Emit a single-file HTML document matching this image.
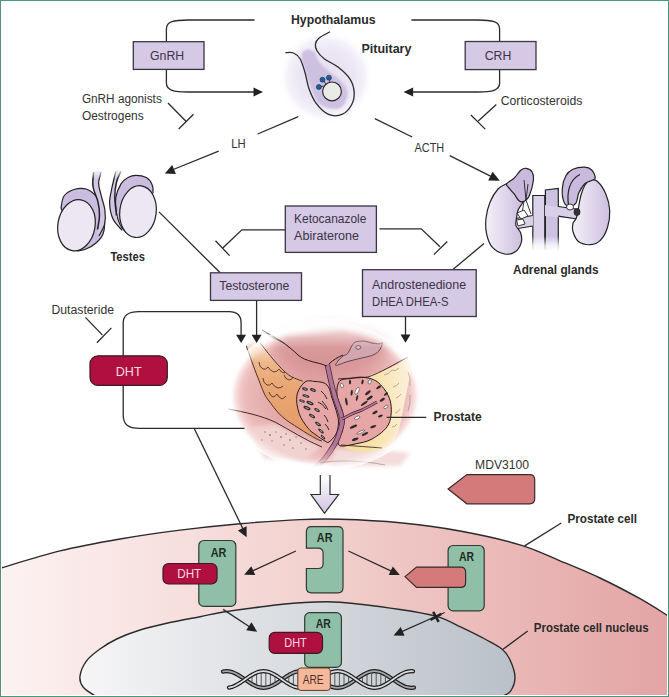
<!DOCTYPE html>
<html><head><meta charset="utf-8">
<style>
html,body{margin:0;padding:0;background:#fff;}
body{width:669px;height:697px;overflow:hidden;}
svg{display:block;font-family:"Liberation Sans",sans-serif;}
.ln{fill:none;stroke:#2b2b2b;stroke-width:1.3;}
.bx{fill:#d5c9e6;stroke:#3a3640;stroke-width:1.3;}
.t{font-size:12.3px;fill:#333;}
.tb{font-size:12.6px;font-weight:bold;fill:#2a2a2a;}
.tbx{font-size:12.3px;fill:#3b3444;}
.ar{fill:#8fc0a7;stroke:#2f3a33;stroke-width:1.2;}
.dht{fill:#b0103f;stroke:#3a1a22;stroke-width:1.2;}
.dhtt{font-size:12.6px;fill:#fadbe3;}
.art{font-size:12.6px;font-weight:bold;fill:#1f2a24;}
.mdv{fill:#d47a7a;stroke:#3a2a2a;stroke-width:1.2;}
</style></head>
<body>
<svg width="669" height="697" viewBox="0 0 669 697">
<defs>
  <linearGradient id="cellg" x1="0" y1="0" x2="1" y2="0">
    <stop offset="0" stop-color="#fcf3f2"/>
    <stop offset="0.45" stop-color="#f3d3d0"/>
    <stop offset="1" stop-color="#e3a4a4"/>
  </linearGradient>
  <linearGradient id="nucg" x1="0" y1="0" x2="1" y2="0">
    <stop offset="0" stop-color="#f6f6f7"/>
    <stop offset="0.5" stop-color="#d8dbdf"/>
    <stop offset="1" stop-color="#b9c0c8"/>
  </linearGradient>
  <radialGradient id="pitg" cx="0.5" cy="0.5" r="0.5">
    <stop offset="0" stop-color="#e6dff1"/>
    <stop offset="0.55" stop-color="#ebe5f4"/>
    <stop offset="0.8" stop-color="#f4f1f9"/>
    <stop offset="1" stop-color="#ffffff" stop-opacity="0"/>
  </radialGradient>
  <radialGradient id="prosg" cx="0.5" cy="0.5" r="0.5">
    <stop offset="0" stop-color="#dc9a9a"/>
    <stop offset="0.55" stop-color="#e4a8a8"/>
    <stop offset="0.82" stop-color="#ebbab9"/>
    <stop offset="0.93" stop-color="#f5d6d5"/>
    <stop offset="1" stop-color="#ffffff" stop-opacity="0"/>
  </radialGradient>
  <linearGradient id="fadeW" x1="0" y1="0" x2="0" y2="1">
    <stop offset="0" stop-color="#fff" stop-opacity="1"/>
    <stop offset="0.4" stop-color="#fff" stop-opacity="0.8"/>
    <stop offset="1" stop-color="#fff" stop-opacity="0"/>
  </linearGradient>
  <linearGradient id="fadeWb" x1="0" y1="0" x2="0" y2="1">
    <stop offset="0" stop-color="#fff" stop-opacity="0"/>
    <stop offset="0.6" stop-color="#fff" stop-opacity="0.8"/>
    <stop offset="1" stop-color="#fff" stop-opacity="1"/>
  </linearGradient>
  <linearGradient id="kidL" x1="0" y1="0" x2="1" y2="0">
    <stop offset="0" stop-color="#f4f0f8"/>
    <stop offset="1" stop-color="#cbbddf"/>
  </linearGradient>
  <linearGradient id="kidR" x1="0" y1="0" x2="1" y2="0">
    <stop offset="0" stop-color="#f4f0f8"/>
    <stop offset="1" stop-color="#cdbfe0"/>
  </linearGradient>
  <filter id="blur6" x="-50%" y="-50%" width="200%" height="200%"><feGaussianBlur stdDeviation="6"/></filter>
  <filter id="blur1" x="-20%" y="-20%" width="140%" height="140%"><feGaussianBlur stdDeviation="1.2"/></filter>
  <filter id="blur2" x="-20%" y="-20%" width="140%" height="140%"><feGaussianBlur stdDeviation="2"/></filter>
  <linearGradient id="orng" gradientUnits="userSpaceOnUse" x1="0" y1="343" x2="0" y2="440">
    <stop offset="0" stop-color="#f9e8dc"/>
    <stop offset="0.2" stop-color="#eeb68a"/>
    <stop offset="0.45" stop-color="#e9a674"/>
    <stop offset="1" stop-color="#e39a68"/>
  </linearGradient>
  <linearGradient id="yelg" x1="0" y1="0" x2="1" y2="0">
    <stop offset="0" stop-color="#f6dc98"/>
    <stop offset="0.5" stop-color="#f8e4ae"/>
    <stop offset="1" stop-color="#fbf0dc"/>
  </linearGradient>
  <radialGradient id="edgefade" cx="0.5" cy="0.5" r="0.5">
    <stop offset="0.86" stop-color="#fff" stop-opacity="0"/>
    <stop offset="1" stop-color="#fff" stop-opacity="0.85"/>
  </radialGradient>
  <linearGradient id="fadeWb2" x1="0" y1="0" x2="0" y2="1">
    <stop offset="0" stop-color="#fff" stop-opacity="0"/>
    <stop offset="0.7" stop-color="#fff" stop-opacity="0.75"/>
    <stop offset="1" stop-color="#fff" stop-opacity="1"/>
  </linearGradient>
  <radialGradient id="wspot" cx="0.5" cy="0.5" r="0.5">
    <stop offset="0" stop-color="#fff" stop-opacity="0.85"/>
    <stop offset="1" stop-color="#fff" stop-opacity="0"/>
  </radialGradient>
  <linearGradient id="urfade" gradientUnits="userSpaceOnUse" x1="0" y1="444" x2="0" y2="468">
    <stop offset="0" stop-color="#fff"/>
    <stop offset="1" stop-color="#000"/>
  </linearGradient>
  <mask id="urmask" maskUnits="userSpaceOnUse" x="200" y="300" width="250" height="200"><rect x="200" y="300" width="250" height="200" fill="url(#urfade)"/></mask>
  <linearGradient id="topfade" gradientUnits="userSpaceOnUse" x1="0" y1="320" x2="0" y2="348">
    <stop offset="0" stop-color="#fff" stop-opacity="0.8"/>
    <stop offset="1" stop-color="#fff" stop-opacity="0"/>
  </linearGradient>
  <linearGradient id="arrg" x1="0" y1="0" x2="0" y2="1">
    <stop offset="0" stop-color="#ffffff"/>
    <stop offset="1" stop-color="#cfc2e2"/>
  </linearGradient>
</defs>

<!-- background -->
<rect x="0" y="0" width="669" height="697" fill="#fff"/>

<!-- CELL -->
<path d="M-2.0 569.0 C-1.7 568.9 -10.3 571.3 0.0 568.3 C10.3 565.3 40.0 555.8 60.0 550.9 C80.0 546.0 100.0 542.5 120.0 539.0 C140.0 535.5 160.0 532.6 180.0 530.1 C200.0 527.6 220.0 525.5 240.0 523.7 C260.0 522.0 283.3 520.3 300.0 519.6 C316.7 518.9 323.3 518.8 340.0 519.3 C356.7 519.8 380.0 520.8 400.0 522.8 C420.0 524.8 440.0 527.3 460.0 531.0 C480.0 534.7 503.3 539.8 520.0 544.8 C536.7 549.8 546.7 555.3 560.0 560.8 C573.3 566.3 586.7 571.7 600.0 578.0 C613.3 584.3 628.3 592.2 640.0 598.7 C651.7 605.2 665.0 614.0 670.0 617.0 L670 700 L-2 700 Z" fill="url(#cellg)" stroke="#2b2b2b" stroke-width="1.4"/>

<!-- NUCLEUS -->
<path d="M96.9 697.0 C94.6 695.4 86.1 690.8 83.3 687.3 C80.5 683.8 79.4 680.4 80.0 676.0 C80.6 671.6 83.4 665.2 86.7 660.7 C90.0 656.2 95.0 652.6 100.0 649.0 C105.0 645.4 110.0 642.2 116.7 639.0 C123.4 635.8 131.7 632.6 140.0 630.0 C148.3 627.4 156.7 625.5 166.7 623.3 C176.7 621.1 190.8 618.5 200.0 616.7 C209.2 614.9 212.0 613.9 222.0 612.3 C232.0 610.7 247.0 608.6 260.0 607.0 C273.0 605.4 286.7 603.6 300.0 602.8 C313.3 602.0 323.3 601.1 340.0 602.2 C356.7 603.3 383.9 607.1 400.0 609.5 C416.1 611.9 426.2 613.5 436.4 616.4 C446.6 619.3 452.9 623.2 461.1 627.1 C469.3 631.0 479.0 635.8 485.8 639.5 C492.6 643.2 498.1 645.8 502.2 649.3 C506.3 652.8 508.3 656.1 510.4 660.8 C512.5 665.5 515.0 672.2 515.0 677.3 C515.0 682.4 512.8 688.0 510.4 691.3 C508.0 694.6 502.2 696.0 500.6 697.0 Z" fill="url(#nucg)" stroke="#2b2b2b" stroke-width="1.4"/>

<!-- PROSTATE -->
<g id="prostate">
<ellipse cx="325" cy="396" rx="97" ry="72" fill="url(#prosg)"/>
<ellipse cx="330" cy="350" rx="58" ry="24" fill="#d08a8e" opacity="0.6" filter="url(#blur6)"/>
<!-- bottom whitish pelvic area -->
<path d="M245 428 L275 424 L321 447 L305 460 L265 458 Z" fill="#f0d2d0" filter="url(#blur2)"/>
<path d="M335 449 L382 450 L410 453 L400 466 L330 466 Z" fill="#f3dcda" filter="url(#blur2)"/>
<!-- orange seminal vesicle -->
<path d="M246.3 345.7 C245.0 348.9 250.1 356.6 252.0 362.0 C253.9 367.4 256.0 372.8 258.0 378.0 C260.0 383.2 262.3 389.3 264.0 393.0 C265.7 396.7 265.4 396.1 268.3 400.0 C271.2 403.9 276.5 411.5 281.6 416.2 C286.7 420.9 293.1 424.6 298.8 428.3 C304.5 432.0 312.1 436.5 316.0 438.6 C319.9 440.7 322.7 442.1 322.0 441.0 C321.3 439.9 315.2 435.5 312.0 432.0 C308.8 428.5 305.3 424.5 303.0 420.0 C300.7 415.5 298.9 409.2 298.0 405.0 C297.1 400.8 297.1 398.2 297.4 395.0 C297.7 391.8 299.1 388.3 300.0 386.0 C300.9 383.7 304.7 383.2 302.8 381.3 C300.9 379.4 293.2 378.3 288.5 374.9 C283.8 371.5 279.5 366.5 274.7 361.1 C269.9 355.7 264.6 345.2 259.9 342.6 C255.2 340.0 247.6 342.5 246.3 345.7Z" fill="url(#orng)"/>
<path d="M246.3 345.7 C247.2 348.4 250.1 356.6 252.0 362.0 C253.9 367.4 256.0 372.8 258.0 378.0 C260.0 383.2 262.3 389.3 264.0 393.0 C265.7 396.7 265.4 396.1 268.3 400.0 C271.2 403.9 276.5 411.5 281.6 416.2 C286.7 420.9 293.1 424.6 298.8 428.3 C304.5 432.0 312.1 436.5 316.0 438.6 C319.9 440.7 321.0 440.6 322.0 441.0 M259.9 342.6 C262.4 345.7 269.9 355.7 274.7 361.1 C279.5 366.5 283.8 371.5 288.5 374.9 C293.2 378.3 300.4 380.2 302.8 381.3" fill="none" stroke="#3a2520" stroke-width="0.9"/>
<path d="M259 362 q0 5 4 7 q3 1 5 -2 q2 4 6 5 q3 0 5 -3 q2 4 6 4 M263 378 q0 5 4 7 q3 1 5 -2 q2 4 6 5 q3 0 5 -2 M269 392 q1 4 4 5 q3 -1 4 -3 q2 4 5 5 q2 -1 4 -3 M284 375 q1 4 5 5 q3 0 4 -3" fill="none" stroke="#3a2520" stroke-width="0.8"/>
<!-- yellow region -->
<path d="M369.0 376.4 C370.0 374.2 380.2 372.1 385.0 370.0 C389.8 367.9 394.2 365.8 398.0 364.0 C401.8 362.2 405.8 359.0 408.0 359.0 C410.2 359.0 411.0 359.7 411.0 364.0 C411.0 368.3 409.2 378.2 408.0 385.0 C406.8 391.8 405.3 398.3 404.0 405.0 C402.7 411.7 401.7 419.2 400.0 425.0 C398.3 430.8 396.8 436.0 394.0 440.0 C391.2 444.0 387.8 447.0 383.0 449.0 C378.2 451.0 371.4 452.3 365.0 452.0 C358.6 451.7 343.1 449.3 344.3 447.1 C345.5 444.9 364.8 442.7 372.2 438.9 C379.6 435.1 385.7 430.4 388.7 424.1 C391.7 417.8 391.9 408.0 390.3 401.1 C388.7 394.2 382.4 387.1 378.8 383.0 C375.2 378.9 368.0 378.6 369.0 376.4Z" fill="url(#yelg)"/>
<path d="M384 375 q5 -1 8 -5 q3 2 7 -2 M393 387 q4 -1 6 -4 M396 398 q3 -1 5 -4 M395 413 q3 0 5 -4 M392 427 q3 0 5 -3 M408 372 q3 6 2 14 M410 395 q1 8 -2 16" fill="none" stroke="#7a6a5a" stroke-width="0.7" opacity="0.7"/>
<!-- lobes -->
<path d="M305.0 382.0 C308.0 379.8 311.8 381.3 315.0 381.5 C318.2 381.7 321.7 381.9 324.0 383.0 C326.3 384.1 327.7 385.5 329.0 388.0 C330.3 390.5 330.8 394.3 332.0 398.0 C333.2 401.7 334.9 406.0 336.0 410.0 C337.1 414.0 338.5 418.0 338.5 422.0 C338.5 426.0 337.6 430.7 336.0 434.0 C334.4 437.3 330.8 440.8 329.0 442.0 C327.2 443.2 327.2 442.2 325.0 441.0 C322.8 439.8 318.8 437.1 316.0 435.0 C313.2 432.9 310.8 431.8 308.0 428.2 C305.2 424.6 300.8 418.7 299.0 413.2 C297.2 407.7 296.0 400.2 297.0 395.0 C298.0 389.8 302.0 384.2 305.0 382.0Z" fill="#e6a6a5" stroke="#2a1a1a" stroke-width="1"/>
<path d="M339.3 381.4 C341.5 378.6 345.9 379.2 350.0 378.5 C354.1 377.8 359.2 376.6 364.0 377.3 C368.8 378.1 374.4 379.0 378.8 383.0 C383.2 387.0 388.7 394.2 390.3 401.1 C391.9 408.0 391.7 417.8 388.7 424.1 C385.7 430.4 377.8 435.6 372.2 438.9 C366.6 442.2 360.2 442.8 355.0 444.0 C349.8 445.2 343.8 446.5 341.0 446.0 C338.2 445.5 337.8 443.3 338.0 441.0 C338.2 438.7 341.0 435.3 342.0 432.0 C343.0 428.7 344.0 424.7 344.0 421.0 C344.0 417.3 343.2 414.3 342.0 410.0 C340.8 405.7 337.4 399.8 337.0 395.0 C336.6 390.2 337.1 384.1 339.3 381.4Z" fill="#e6a6a5" stroke="#2a1a1a" stroke-width="1"/>
<!-- spots -->
<g>
<ellipse cx="305" cy="389" rx="3" ry="1.5" transform="rotate(15 305 389)" fill="#2d2a2e"/>
<ellipse cx="305" cy="389" rx="1.6500000000000001" ry="0.6000000000000001" transform="rotate(15 305 389)" fill="#9aa0a8"/>
<ellipse cx="313" cy="390" rx="3.2" ry="1.5" transform="rotate(20 313 390)" fill="#2d2a2e"/>
<ellipse cx="313" cy="390" rx="1.7600000000000002" ry="0.6000000000000001" transform="rotate(20 313 390)" fill="#9aa0a8"/>
<ellipse cx="306" cy="396" rx="3.6" ry="1.4" transform="rotate(15 306 396)" fill="#2d2a2e"/>
<ellipse cx="306" cy="396" rx="1.9800000000000002" ry="0.5599999999999999" transform="rotate(15 306 396)" fill="#9aa0a8"/>
<ellipse cx="302" cy="401" rx="3" ry="1.3" transform="rotate(20 302 401)" fill="#2d2a2e"/>
<ellipse cx="302" cy="401" rx="1.6500000000000001" ry="0.52" transform="rotate(20 302 401)" fill="#9aa0a8"/>
<ellipse cx="310" cy="403" rx="3.8" ry="1.6" transform="rotate(25 310 403)" fill="#2d2a2e"/>
<ellipse cx="310" cy="403" rx="2.09" ry="0.6400000000000001" transform="rotate(25 310 403)" fill="#9aa0a8"/>
<ellipse cx="307" cy="408" rx="3.8" ry="1.6" transform="rotate(25 307 408)" fill="#2d2a2e"/>
<ellipse cx="307" cy="408" rx="2.09" ry="0.6400000000000001" transform="rotate(25 307 408)" fill="#9aa0a8"/>
<ellipse cx="317" cy="410" rx="3.2" ry="1.4" transform="rotate(30 317 410)" fill="#2d2a2e"/>
<ellipse cx="317" cy="410" rx="1.7600000000000002" ry="0.5599999999999999" transform="rotate(30 317 410)" fill="#9aa0a8"/>
<ellipse cx="312" cy="416" rx="3.4" ry="1.4" transform="rotate(30 312 416)" fill="#2d2a2e"/>
<ellipse cx="312" cy="416" rx="1.87" ry="0.5599999999999999" transform="rotate(30 312 416)" fill="#9aa0a8"/>
<ellipse cx="318" cy="424" rx="3.4" ry="1.4" transform="rotate(35 318 424)" fill="#2d2a2e"/>
<ellipse cx="318" cy="424" rx="1.87" ry="0.5599999999999999" transform="rotate(35 318 424)" fill="#9aa0a8"/>
<ellipse cx="321" cy="431" rx="3.4" ry="1.3" transform="rotate(40 321 431)" fill="#2d2a2e"/>
<ellipse cx="321" cy="431" rx="1.87" ry="0.52" transform="rotate(40 321 431)" fill="#9aa0a8"/>
<ellipse cx="323" cy="437" rx="3" ry="1.1" transform="rotate(45 323 437)" fill="#2d2a2e"/>
<ellipse cx="323" cy="437" rx="1.6500000000000001" ry="0.44000000000000006" transform="rotate(45 323 437)" fill="#9aa0a8"/>
<ellipse cx="350" cy="382" rx="1.1" ry="2.6" transform="rotate(0 350 382)" fill="#2d2a2e"/>
<ellipse cx="362.5" cy="381.9" rx="1.1" ry="2.5" transform="rotate(10 362.5 381.9)" fill="#2d2a2e"/>
<ellipse cx="378.7" cy="387.3" rx="2.8" ry="1.2" transform="rotate(-35 378.7 387.3)" fill="#2d2a2e"/>
<ellipse cx="367.9" cy="392.7" rx="3.4" ry="1.3" transform="rotate(-40 367.9 392.7)" fill="#2d2a2e"/>
<ellipse cx="382.2" cy="399.8" rx="3" ry="1.3" transform="rotate(-30 382.2 399.8)" fill="#2d2a2e"/>
<ellipse cx="346.4" cy="401.6" rx="1.1" ry="4" transform="rotate(-10 346.4 401.6)" fill="#2d2a2e"/>
<ellipse cx="351.7" cy="392.7" rx="1.1" ry="3" transform="rotate(5 351.7 392.7)" fill="#2d2a2e"/>
<ellipse cx="369.7" cy="398" rx="3.6" ry="1.3" transform="rotate(-35 369.7 398)" fill="#2d2a2e"/>
<ellipse cx="364.3" cy="403.4" rx="4" ry="1.1" transform="rotate(-35 364.3 403.4)" fill="#2d2a2e"/>
<ellipse cx="375" cy="412.4" rx="3" ry="1.2" transform="rotate(-30 375 412.4)" fill="#2d2a2e"/>
<ellipse cx="380.4" cy="416" rx="2.6" ry="1.1" transform="rotate(-25 380.4 416)" fill="#2d2a2e"/>
<ellipse cx="373.3" cy="426.7" rx="3.2" ry="1.2" transform="rotate(-20 373.3 426.7)" fill="#2d2a2e"/>
<ellipse cx="353.5" cy="426.7" rx="4" ry="1.2" transform="rotate(-25 353.5 426.7)" fill="#2d2a2e"/>
<ellipse cx="355.3" cy="439.3" rx="3.5" ry="1.3" transform="rotate(-20 355.3 439.3)" fill="#2d2a2e"/>
<ellipse cx="365" cy="434" rx="3.5" ry="1.1" transform="rotate(-25 365 434)" fill="#2d2a2e"/>
<ellipse cx="386" cy="394" rx="2.4" ry="1.1" transform="rotate(-40 386 394)" fill="#2d2a2e"/>
<ellipse cx="357" cy="398" rx="1" ry="3" transform="rotate(15 357 398)" fill="#2d2a2e"/>
</g>
<path d="M321 391 q4 3 6 8 M322 401 q4 4 6 9 M324 415 q3 3 4 7 M325 424 q3 3 4 6 M318 402 q5 2 8 7" fill="none" stroke="#2d2a2e" stroke-width="1"/>
<g>
<ellipse cx="341.9" cy="385.5" rx="1.4" ry="2.4" transform="rotate(-20 341.9 385.5)" fill="#fff" stroke="#2d2a2e" stroke-width="0.5"/>
<ellipse cx="357.1" cy="390.9" rx="1.6" ry="3.8" transform="rotate(25 357.1 390.9)" fill="#fff" stroke="#2d2a2e" stroke-width="0.5"/>
<ellipse cx="369.7" cy="381.9" rx="1.4" ry="2.3" transform="rotate(20 369.7 381.9)" fill="#fff" stroke="#2d2a2e" stroke-width="0.5"/>
<ellipse cx="385.8" cy="407" rx="2.3" ry="1.3" transform="rotate(-35 385.8 407)" fill="#fff" stroke="#2d2a2e" stroke-width="0.5"/>
<ellipse cx="357.1" cy="417.8" rx="3" ry="1.4" transform="rotate(-25 357.1 417.8)" fill="#fff" stroke="#2d2a2e" stroke-width="0.5"/>
<ellipse cx="360.7" cy="432.1" rx="4.5" ry="1" transform="rotate(-25 360.7 432.1)" fill="#fff" stroke="#2d2a2e" stroke-width="0.5"/>
</g>
<!-- urethra -->
<g mask="url(#urmask)">
<path d="M327.3 364.9 C327.9 367.4 329.4 374.6 330.6 379.8 C331.9 385.0 333.2 390.8 334.8 396.3 C336.4 401.8 339.3 408.7 340.5 412.8 C341.7 416.9 342.2 418.2 342.2 421.0 C342.2 423.8 341.5 426.0 340.5 429.3 C339.5 432.6 338.4 436.7 336.4 440.8 C334.3 444.9 330.9 450.1 328.2 454.0 C325.4 457.9 322.6 461.1 319.9 463.9 C317.2 466.7 313.3 469.8 312.0 471.0" fill="none" stroke="#4a2a3c" stroke-width="5.4"/>
<path d="M327.3 364.9 C327.9 367.4 329.4 374.6 330.6 379.8 C331.9 385.0 333.2 390.8 334.8 396.3 C336.4 401.8 339.3 408.7 340.5 412.8 C341.7 416.9 342.2 418.2 342.2 421.0 C342.2 423.8 341.5 426.0 340.5 429.3 C339.5 432.6 338.4 436.7 336.4 440.8 C334.3 444.9 330.9 450.1 328.2 454.0 C325.4 457.9 322.6 461.1 319.9 463.9 C317.2 466.7 313.3 469.8 312.0 471.0" fill="none" stroke="#b07496" stroke-width="3.8"/>
<path d="M342 419 Q352 413 362 410 Q370 406 377 402" fill="none" stroke="#3a2030" stroke-width="3"/>
<path d="M342 419 Q352 413 362 410 Q370 406 377 402" fill="none" stroke="#b07496" stroke-width="1.8"/>
</g>
<!-- bladder lines -->
<path d="M262 330 C275 337 288 345 298 355 C306 362 318 362 327 366" fill="none" stroke="#2a1a1a" stroke-width="1"/>
<path d="M266 333 C276 338 284 342 290 348 M269 336 L284 343" fill="none" stroke="#2a1a1a" stroke-width="0.7"/>
<path d="M343.0 356.0 C344.6 354.8 346.0 355.4 347.5 353.7 C349.0 352.0 350.6 347.6 352.0 345.6 C353.4 343.7 353.5 342.8 355.6 342.0 C357.7 341.2 361.9 340.9 364.6 341.1 C367.3 341.3 369.3 342.6 371.7 343.0 C374.1 343.4 377.1 343.8 378.9 343.8 C380.7 343.8 382.5 341.8 382.5 343.0 C382.5 344.2 380.7 348.9 378.9 351.0 C377.1 353.1 374.7 354.3 371.7 355.5 C368.7 356.7 365.2 357.1 361.0 358.2 C356.8 359.2 350.8 360.6 346.6 361.8 C342.4 363.0 337.4 365.5 336.0 365.4 C334.6 365.3 336.8 362.6 338.0 361.0 C339.2 359.4 341.4 357.2 343.0 356.0Z" fill="#d2a6b0" stroke="#4a3038" stroke-width="0.8"/>
<path d="M329 364 C333 360 338 357 343 355" fill="none" stroke="#2a1a1a" stroke-width="1"/>
<ellipse cx="358.3" cy="347.4" rx="2.6" ry="1.8" fill="#e0c4c8" stroke="#5a4048" stroke-width="0.8"/>
<path d="M338 379 C350 378 360 378 368 377 C380 373 395 364 408 357" fill="none" stroke="#2a1a1a" stroke-width="0.9"/>
<!-- lower lines -->
<path d="M228 409 C245 412 262 416 275 422 C290 430 305 440 322 447" fill="none" stroke="#2a1a1a" stroke-width="0.9"/>
<path d="M341 445 C355 446 370 447 382 448" fill="none" stroke="#2a1a1a" stroke-width="0.8"/>
<path d="M320 463 C335 460 360 460 385 465" fill="none" stroke="#2a1a1a" stroke-width="0.6" opacity="0.5"/>
<g fill="#8a6a6a" opacity="0.8">
<circle cx="265" cy="432" r="0.8"/><circle cx="270" cy="435" r="0.9"/><circle cx="276" cy="432" r="0.7"/><circle cx="281" cy="437" r="0.9"/><circle cx="286" cy="434" r="0.8"/><circle cx="290" cy="440" r="0.9"/><circle cx="296" cy="437" r="0.8"/><circle cx="301" cy="443" r="0.8"/><circle cx="272" cy="441" r="0.7"/><circle cx="284" cy="445" r="0.8"/><circle cx="293" cy="448" r="0.8"/><circle cx="306" cy="449" r="0.8"/><circle cx="262" cy="440" r="0.7"/>
</g>
<ellipse cx="412" cy="335" rx="26" ry="22" fill="url(#wspot)"/>
<!-- bottom fade -->
<ellipse cx="325" cy="396" rx="99" ry="74" fill="url(#edgefade)"/>
<ellipse cx="300" cy="328" rx="45" ry="10" fill="url(#wspot)"/>
<rect x="225" y="318" width="200" height="30" fill="url(#topfade)"/>

</g>
<!-- TOP FEEDBACK LOOPS -->
<path class="ln" d="M254.5 20 H188 C174 20 166.4 21.5 166.4 29 V41.7"/>
<path class="ln" d="M166.4 69.4 V83 C166.4 90.5 174 92 188 92 H254"/>
<path d="M263.0 92.0 L253.5 87.4 L253.5 96.6 Z" fill="#222"/>
<rect class="bx" x="133.3" y="41.7" width="70.7" height="27.7"/>
<text class="tbx" x="167.1" y="60" text-anchor="middle">GnRH</text>

<path class="ln" d="M411.4 20 H478 C492 20 499.6 21.5 499.6 29 V41.5"/>
<path class="ln" d="M499.6 69.6 V83 C499.6 90.5 492 92 478 92 H413"/>
<path d="M403.6 92.0 L413.1 96.6 L413.1 87.4 Z" fill="#222"/>
<rect class="bx" x="465.2" y="41.5" width="70.8" height="28.1"/>
<text class="tbx" x="498" y="59.6" text-anchor="middle">CRH</text>

<text class="tb" x="291" y="23.9" textLength="84.6" lengthAdjust="spacingAndGlyphs">Hypothalamus</text>
<text class="tb" x="361.5" y="53.2" textLength="49.9" lengthAdjust="spacingAndGlyphs">Pituitary</text>

<text class="t" x="81.9" y="103.1" textLength="79.9" lengthAdjust="spacingAndGlyphs">GnRH agonists</text>
<text class="t" x="81.9" y="120.4" textLength="61.8" lengthAdjust="spacingAndGlyphs">Oestrogens</text>
<path class="ln" d="M168 103 L185.7 121 M178.7 129 L193.5 114.3"/>

<text class="t" x="500.7" y="105.2" textLength="81.7" lengthAdjust="spacingAndGlyphs">Corticosteroids</text>
<path class="ln" d="M496.3 104.6 L478.3 121 M470.9 115 L485.2 129.1"/>

<!-- PITUITARY -->
<ellipse cx="326" cy="77" rx="48" ry="47" fill="url(#pitg)"/>
<path d="M307.0 49.6 C304.9 49.9 302.2 51.6 301.6 54.3 C301.0 57.0 302.0 60.3 303.6 65.8 C305.2 71.3 308.4 81.1 311.0 87.4 C313.6 93.7 315.3 100.0 319.1 103.6 C322.9 107.2 329.9 108.7 334.0 109.0 C338.1 109.3 341.1 108.3 343.4 105.6 C345.6 102.9 347.7 96.7 347.5 92.8 C347.3 88.9 345.1 85.6 342.0 82.0 C338.9 78.4 332.4 74.6 328.6 71.2 C324.8 67.8 321.5 64.9 319.1 61.7 C316.7 58.6 316.4 54.3 314.4 52.3 C312.4 50.3 309.1 49.3 307.0 49.6Z" fill="#cdc0e1" filter="url(#blur1)"/>
<path class="ln" d="M285.4 52.6 C286.8 52.7 291.0 51.9 293.5 53.0 C296.0 54.1 298.3 55.8 300.2 59.0 C302.1 62.2 303.5 67.5 305.0 72.5 C306.5 77.5 307.1 83.5 309.0 88.7 C310.9 93.9 313.1 99.3 316.4 103.6 C319.7 107.9 324.3 112.6 328.6 114.4 C332.9 116.2 338.2 116.0 342.0 114.4 C345.8 112.8 349.5 108.6 351.5 105.0 C353.5 101.4 354.4 97.1 354.2 92.8 C354.0 88.5 352.9 83.6 350.2 79.3 C347.5 75.0 342.3 70.5 338.0 67.1 C333.7 63.7 328.0 61.7 324.5 59.0 C321.0 56.3 318.6 53.5 317.1 51.0 C315.6 48.5 315.1 46.4 315.4 44.2 C315.7 42.1 316.7 40.2 319.1 38.1 C321.5 36.0 328.2 32.9 330.0 31.8" stroke-width="1.2"/>
<path d="M322.5 79.7 L326 84 M328.9 77.7 L330 82 M318.9 87 L323.5 86" stroke="#2b2b2b" stroke-width="0.9"/>
<circle cx="332" cy="91.4" r="9.4" fill="#e9ebe7" stroke="#2b2b2b" stroke-width="1.2"/>
<circle cx="322.5" cy="79.7" r="2.5" fill="#1f5e9e" stroke="#1a2a40" stroke-width="0.6"/>
<circle cx="328.9" cy="77.7" r="2.5" fill="#1f5e9e" stroke="#1a2a40" stroke-width="0.6"/>
<circle cx="318.9" cy="87" r="2.5" fill="#1f5e9e" stroke="#1a2a40" stroke-width="0.6"/>

<!-- TESTES -->
<g stroke="#222" stroke-width="1.2">
<path d="M61.0 208.0 C61.5 206.0 61.8 199.1 64.0 196.0 C66.2 192.9 70.3 190.7 74.0 189.5 C77.7 188.3 82.3 187.9 86.0 189.0 C89.7 190.1 93.5 193.2 96.0 196.0 C98.5 198.8 99.6 202.0 101.0 206.0 C102.4 210.0 104.2 215.3 104.5 220.0 C104.8 224.7 104.4 230.2 103.0 234.0 C101.6 237.8 98.8 240.5 96.0 243.0 C93.2 245.5 89.0 247.7 86.0 249.0 C83.0 250.3 79.3 250.7 78.0 251.0 L70 230 Z" fill="#cbbde0"/>
<path d="M93.6 172.0 C92.2 174.4 92.3 181.6 93.0 186.5 C93.7 191.4 96.8 196.8 97.9 201.6 C99.0 206.4 99.6 210.8 99.5 215.5 C99.4 220.2 97.6 226.1 97.5 229.5 C97.4 232.9 97.8 236.9 99.0 236.0 C100.2 235.1 103.6 228.4 104.6 224.1 C105.6 219.8 105.5 215.0 104.9 210.2 C104.3 205.4 102.1 199.6 101.1 195.1 C100.0 190.6 98.6 187.2 98.6 183.3 C98.6 179.5 101.9 173.9 101.1 172.0 C100.3 170.1 94.9 169.6 93.6 172.0Z" fill="#d3c7e5" stroke="none"/>
<path d="M93.6 172.0 C93.5 174.4 92.3 181.6 93.0 186.5 C93.7 191.4 96.8 196.8 97.9 201.6 C99.0 206.4 99.6 210.8 99.5 215.5 C99.4 220.2 97.8 227.2 97.5 229.5" fill="none" stroke-width="1.5"/>
<path d="M101.1 172.0 C100.7 173.9 98.6 179.5 98.6 183.3 C98.6 187.2 100.0 190.6 101.1 195.1 C102.1 199.6 104.3 205.4 104.9 210.2 C105.5 215.0 105.6 219.8 104.6 224.1 C103.6 228.4 99.9 234.0 99.0 236.0" fill="none"/>
<ellipse cx="76.5" cy="225.2" rx="18.6" ry="25.8" transform="rotate(10 76.5 225.2)" fill="#ece7f3"/>

<path d="M125.6 232.0 C124.6 230.8 121.4 227.8 119.9 224.7 C118.4 221.6 117.2 217.8 116.5 213.2 C115.8 208.6 115.2 202.0 115.9 197.1 C116.7 192.2 119.0 187.2 121.0 183.9 C123.0 180.6 125.5 178.9 128.0 177.5 C130.5 176.1 132.9 175.3 136.0 175.3 C139.1 175.3 143.6 176.1 146.3 177.6 C149.0 179.1 150.9 182.0 152.0 184.5 C153.1 187.0 153.3 190.4 153.0 192.5 C152.7 194.6 150.5 196.2 150.0 197.0 L135 210 Z" fill="#cbbde0"/>
<path d="M115.9 171.0 C114.4 173.8 113.0 182.6 111.9 187.9 C110.9 193.2 109.4 197.7 109.6 202.9 C109.8 208.1 110.9 214.3 113.0 218.9 C115.1 223.5 121.4 229.9 122.2 230.4 C123.0 230.9 119.0 224.5 118.0 222.0 C117.0 219.5 117.0 219.7 116.5 215.5 C116.0 211.3 114.8 202.7 114.8 197.1 C114.8 191.5 115.5 186.5 116.5 182.2 C117.5 177.9 121.1 173.2 121.0 171.3 C120.9 169.4 117.4 168.2 115.9 171.0Z" fill="#d3c7e5" stroke="none"/>
<path d="M115.9 171.0 C115.2 173.8 113.0 182.6 111.9 187.9 C110.9 193.2 109.4 197.7 109.6 202.9 C109.8 208.1 110.9 214.3 113.0 218.9 C115.1 223.5 120.7 228.5 122.2 230.4" fill="none"/>
<path d="M121.0 171.3 C120.2 173.1 117.5 177.9 116.5 182.2 C115.5 186.5 114.8 191.5 114.8 197.1 C114.8 202.7 116.2 212.4 116.5 215.5" fill="none" stroke-width="1.5"/>
<ellipse cx="138" cy="211.6" rx="18.2" ry="26" transform="rotate(7 138 211.6)" fill="#ece7f3"/>
</g>
<rect x="88" y="165" width="40" height="14" fill="url(#fadeW)"/>

<!-- ADRENAL / KIDNEYS -->
<g stroke="#222" stroke-width="1.2">
<!-- vessels -->
<path d="M532.8 250 V195.5 H544.8 V250" fill="#dcd2ea"/>
<path d="M545.4 250 V190 L558.3 188.5 V250" fill="#cdc1e1"/>
<path d="M516 218 L533 215 V226 L518 229 Z" fill="#d9cfe8" stroke="none"/>
<path d="M516 218.5 L532.8 215.5 M518 228.5 L532.8 226" fill="none"/>
<path d="M545 205 L576 209 L577 219 L545 216 Z" fill="#d9cfe8" stroke="none"/>
<path d="M558.3 206.5 L576 209 M558.3 216.2 L577 219" fill="none"/>

<!-- left kidney -->
<path d="M506.7 183.7 C505.2 184.6 500.8 185.9 498.0 189.0 C495.2 192.1 492.0 197.4 490.0 202.3 C488.0 207.2 486.6 213.0 486.0 218.3 C485.4 223.6 485.6 229.4 486.7 234.3 C487.8 239.2 489.7 244.4 492.7 247.7 C495.7 251.0 500.9 253.3 504.7 254.0 C508.5 254.7 512.5 253.6 515.3 251.7 C518.1 249.8 520.4 245.4 521.3 242.3 C522.2 239.2 521.6 235.8 520.7 233.0 C519.8 230.2 516.7 228.2 516.0 225.7 C515.3 223.2 516.2 220.6 516.5 218.0 C516.8 215.4 517.1 212.7 518.0 210.3 C518.9 207.9 521.1 205.2 522.0 203.7 C522.9 202.1 523.1 201.4 523.3 201.0 L515 192 Z" fill="url(#kidL)"/>
<path d="M506.7 183.7 C507.6 182.1 511.7 180.5 514.0 178.3 C516.3 176.1 518.7 172.0 520.7 170.3 C522.7 168.6 524.1 168.1 526.0 168.3 C527.9 168.5 530.8 169.6 532.0 171.7 C533.2 173.8 533.8 177.0 533.3 181.0 C532.8 185.0 530.7 192.4 529.3 195.7 C527.9 199.0 526.4 200.1 524.7 201.0 C523.0 201.9 521.1 202.2 519.3 201.0 C517.5 199.8 515.8 195.9 514.0 193.7 C512.2 191.5 509.9 189.4 508.7 187.7 C507.5 186.0 505.8 185.3 506.7 183.7Z" fill="#c9badd"/>
<path d="M524 180 L526 200 M528 184 L526 200 L531 214 M524 201 L522 214" fill="none" stroke-width="0.9"/>
<path d="M517 213 L524 210 L528 216 L521 219 Z M516.5 220 L523 219 L525 224 L518 226 Z" fill="#fff" stroke-width="0.9"/>
<!-- right kidney -->
<path d="M590.3 180.0 C592.4 179.4 594.9 179.1 597.5 181.5 C600.1 183.9 604.0 189.6 606.0 194.4 C608.0 199.2 609.5 204.7 609.7 210.2 C610.0 215.7 609.1 222.5 607.5 227.5 C605.9 232.5 603.2 237.5 600.3 240.4 C597.4 243.3 593.9 244.5 590.3 244.7 C586.7 244.9 581.7 244.0 578.8 241.8 C575.9 239.7 574.0 234.9 573.0 231.8 C572.0 228.7 572.5 225.4 573.0 223.2 C573.5 221.0 575.2 220.7 576.0 218.8 C576.8 216.9 577.5 214.1 578.0 212.0 C578.5 209.9 578.3 208.8 578.8 206.0 C579.3 203.2 580.0 198.5 581.0 195.0 C582.0 191.5 583.5 187.5 585.0 185.0 C586.5 182.5 588.2 180.6 590.3 180.0Z" fill="url(#kidR)"/>
<path d="M564.4 203.0 C563.1 200.1 562.0 193.2 562.3 188.7 C562.5 184.2 564.1 179.0 565.9 175.8 C567.7 172.6 569.9 170.7 573.0 169.3 C576.1 167.9 581.4 167.1 584.5 167.2 C587.6 167.3 589.9 168.2 591.7 170.0 C593.5 171.8 595.5 176.2 595.3 178.0 C595.1 179.8 592.1 180.0 590.3 181.0 C588.5 182.0 586.4 182.0 584.5 184.0 C582.6 186.0 580.2 189.8 578.8 193.0 C577.4 196.2 577.5 200.8 576.0 203.0 C574.5 205.2 571.9 206.0 570.0 206.0 C568.1 206.0 565.7 205.9 564.4 203.0Z" fill="#c9badd"/>
<path d="M568.5 205 C567 195 568 180 580 174.5" fill="none"/>
<ellipse cx="570" cy="207" rx="3.5" ry="3" fill="#fff" stroke-width="0.9"/>
<ellipse cx="577" cy="212" rx="3" ry="3.5" fill="#333" stroke-width="0.9"/>
</g>
<rect x="530" y="236" width="30" height="16" fill="url(#fadeWb)"/>

<!-- LH / ACTH -->
<path class="ln" d="M298.3 116.7 L257.7 134 M218.7 151.1 L172 170"/>
<path d="M164.8 173.4 L175.9 174.1 L172.2 165.0 Z" fill="#222"/>
<text class="t" x="231.3" y="147.8" textLength="14.4" lengthAdjust="spacingAndGlyphs">LH</text>
<path class="ln" d="M374.8 118.7 L412.2 137 M449.7 155.7 L491 176.4"/>
<path d="M499.8 180.8 L492.6 171.7 L488.2 180.5 Z" fill="#222"/>
<text class="t" x="414.5" y="151.9" textLength="29.7" lengthAdjust="spacingAndGlyphs">ACTH</text>

<!-- Testes label -->
<text class="tb" x="110.4" y="260.6" textLength="34.5" lengthAdjust="spacingAndGlyphs">Testes</text>
<text class="tb" x="513.1" y="274" textLength="85.4" lengthAdjust="spacingAndGlyphs">Adrenal glands</text>

<!-- Keto box -->
<rect class="bx" x="285.3" y="206" width="91.1" height="46.4"/>
<text class="tbx" x="294.1" y="223.2" textLength="72.2" lengthAdjust="spacingAndGlyphs">Ketocanazole</text>
<text class="tbx" x="294.1" y="239.9" textLength="65" lengthAdjust="spacingAndGlyphs">Abiraterone</text>
<path class="ln" d="M285.3 229.8 H241.9 L223 247.7 M215.5 240.8 L229.6 255.6"/>
<path class="ln" d="M379.5 228.9 H421.2 L440 246.8 M433.8 254.6 L447.3 241.5"/>

<!-- Testosterone -->
<path class="ln" d="M159 211.9 L220.2 272.8"/>
<rect class="bx" x="210.5" y="272.8" width="91" height="27.6"/>
<text class="tbx" x="219.3" y="290" textLength="70" lengthAdjust="spacingAndGlyphs">Testosterone</text>
<path class="ln" d="M256.6 300.4 V336"/>
<path d="M256.6 343.0 L261.6 334.7 L251.6 334.7 Z" fill="#222"/>

<!-- Andro -->
<path class="ln" d="M484 243.6 L452.6 269.7"/>
<rect class="bx" x="362.5" y="269.7" width="113.7" height="46.8"/>
<text class="tbx" x="372" y="289.2" textLength="94.1" lengthAdjust="spacingAndGlyphs">Androstenedione</text>
<text class="tbx" x="372" y="306.4" textLength="76.5" lengthAdjust="spacingAndGlyphs">DHEA DHEA-S</text>
<path class="ln" d="M405.5 316.5 V336"/>
<path d="M405.5 342.8 L410.5 334.5 L400.5 334.5 Z" fill="#222"/>

<!-- Dutasteride loop -->
<text class="t" x="51.5" y="313.7" textLength="62.5" lengthAdjust="spacingAndGlyphs">Dutasteride</text>
<path class="ln" d="M85.4 317.4 L102.5 335.1 M96.9 342.7 L111.4 327.9"/>
<path class="ln" d="M123.2 355.8 V323 C123.2 315 128 311.7 139 311.7 H229 C237 311.7 241.1 315.5 241.1 323 V336"/>
<path d="M241.1 343.0 L246.1 334.7 L236.1 334.7 Z" fill="#222"/>
<path class="ln" d="M123.2 385.4 V415 C123.2 424.5 128 428.3 140 428.3 H244.5"/>
<path class="ln" d="M194.1 428.3 L244 531"/>
<path d="M246.6 537.3 L246.6 526.2 L237.9 530.4 Z" fill="#222"/>
<rect class="dht" x="90" y="355.8" width="77.3" height="29.6" rx="8"/>
<text class="dhtt" x="128.7" y="375.6" text-anchor="middle">DHT</text>

<!-- Prostate placeholder -->
<path class="ln" d="M386.7 417.3 H426.3"/>
<text class="tb" x="433.6" y="420.5" textLength="48.1" lengthAdjust="spacingAndGlyphs">Prostate</text>

<!-- MDV -->
<text class="t" x="475" y="469.2" textLength="54.1" lengthAdjust="spacingAndGlyphs">MDV3100</text>
<path class="mdv" d="M448.1 488.9 L466.9 474.6 H529.7 Q534.7 474.6 534.7 479.6 V498.8 Q534.7 503.8 529.7 503.8 H466.9 Z"/>

<!-- big down arrow -->
<path d="M320.3 475 V494.5 H311 L324.5 513.3 L338.6 494.5 H330 V475" fill="url(#arrg)" stroke="#2b2b2b" stroke-width="1.2"/>

<!-- Cell labels -->
<text class="tb" x="567.5" y="522.5" textLength="69.5" lengthAdjust="spacingAndGlyphs">Prostate cell</text>
<path class="ln" d="M561.3 523 L524.6 545.9"/>
<text class="tb" x="533.8" y="632" textLength="114.8" lengthAdjust="spacingAndGlyphs">Prostate cell nucleus</text>
<path class="ln" d="M527.7 630.9 L503 649.3"/>

<!-- Left AR with DHT -->
<rect class="ar" x="198.8" y="540.5" width="37" height="65.9" rx="5"/>
<text class="art" x="210.7" y="556.6" textLength="15.7" lengthAdjust="spacingAndGlyphs">AR</text>
<rect class="dht" x="163" y="563.5" width="54" height="20.5" rx="5.5"/>
<text class="dhtt" x="177.2" y="578.1" textLength="24.1" lengthAdjust="spacingAndGlyphs">DHT</text>

<!-- Center AR with notch -->
<path class="ar" d="M311.4 526.7 H338 Q343 526.7 343 531.7 V587.8 Q343 592.8 338 592.8 H311.4 Q306.4 592.8 306.4 587.8 V568.5 H318 Q323.1 568.5 323.1 563.4 V553.3 Q323.1 548.2 318 548.2 H306.4 V531.7 Q306.4 526.7 311.4 526.7 Z"/>
<text class="art" x="316.8" y="541.6" textLength="15.7" lengthAdjust="spacingAndGlyphs">AR</text>

<!-- arrows in cell -->
<path class="ln" d="M295.9 551 L251 571.6"/>
<path d="M244.2 574.8 L255.3 575.0 L251.3 566.3 Z" fill="#222"/>
<path class="ln" d="M348.4 551 L393 571.8"/>
<path d="M399.8 575.0 L392.8 566.4 L388.7 575.1 Z" fill="#222"/>

<!-- Right AR with MDV -->
<rect class="ar" x="448.1" y="545.5" width="36.1" height="65.3" rx="5"/>
<text class="art" x="458.9" y="561.1" textLength="15.1" lengthAdjust="spacingAndGlyphs">AR</text>
<path class="mdv" d="M405 576.6 L416.5 567.1 H460.6 Q465.6 567.1 465.6 572.1 V582.4 Q465.6 587.4 460.6 587.4 H416.5 Z"/>

<!-- X arrow -->
<path class="ln" d="M444.7 612.5 L400 632.4"/>
<path d="M393.5 635.4 L404.6 635.7 L400.7 626.9 Z" fill="#222"/>
<path d="M433.2 611.8 L438.6 621.9 M430.5 619.9 L441.3 613.8" stroke="#222" stroke-width="2.6" fill="none"/>

<!-- arrow to nucleus -->
<path class="ln" d="M223.1 609.4 L251 627.8"/>
<path d="M257.2 631.8 L251.5 622.3 L246.2 630.3 Z" fill="#222"/>

<!-- DNA placeholder -->
<g id="dna">
<path d="M223.0 671.6 L224.0 671.4 L225.0 671.3 L226.0 671.2 L227.0 671.2 L228.0 671.3 L229.0 671.4 L230.0 671.6 L231.0 671.8 L232.0 672.1 L233.0 672.4 L234.0 672.8 L235.0 673.3 L236.0 673.8 L237.0 674.3 L238.0 674.9 L239.0 675.5 L240.0 676.1 L241.0 676.7 L242.0 677.4 L243.0 678.1 L244.0 678.8 L245.0 679.5 L246.0 680.2 L247.0 680.9 L248.0 681.6 L249.0 682.3 L250.0 682.9 L251.0 683.5 L252.0 684.1 L253.0 684.7 L254.0 685.2 L255.0 685.7 L256.0 686.2 L257.0 686.6 L258.0 686.9 L259.0 687.2 L260.0 687.4 L261.0 687.6 L262.0 687.7 L263.0 687.8 L264.0 687.8 L265.0 687.7 L266.0 687.6 L267.0 687.4 L268.0 687.2 L269.0 686.9 L270.0 686.6 L271.0 686.2 L272.0 685.7 L273.0 685.2 L274.0 684.7 L275.0 684.1 L276.0 683.5 L277.0 682.9 L278.0 682.3 L279.0 681.6 L280.0 680.9 L281.0 680.2 L282.0 679.5 L283.0 678.8 L284.0 678.1 L285.0 677.4 L286.0 676.7 L287.0 676.1 L288.0 675.5 L289.0 674.9 L290.0 674.3 L291.0 673.8 L292.0 673.3 L293.0 672.8 L294.0 672.4 L295.0 672.1 L296.0 671.8 L297.0 671.6 L298.0 671.4 L299.0 671.3 L300.0 671.2 L301.0 671.2 L302.0 671.3 L303.0 671.4 L304.0 671.6 L305.0 671.8 L306.0 672.1 L307.0 672.4 L308.0 672.8 L309.0 673.3 L310.0 673.8 L311.0 674.3 L312.0 674.9 L313.0 675.5 L314.0 676.1 L315.0 676.7 L316.0 677.4 L317.0 678.1 L318.0 678.8 L319.0 679.5 L320.0 680.2 L321.0 680.9 L322.0 681.6 L323.0 682.3 L324.0 682.9 L325.0 683.5 L326.0 684.1 L327.0 684.7 L328.0 685.2 L329.0 685.7 L330.0 686.2 L331.0 686.6 L332.0 686.9 L333.0 687.2 L334.0 687.4 L335.0 687.6 L336.0 687.7 L337.0 687.8 L338.0 687.8 L339.0 687.7 L340.0 687.6 L341.0 687.4 L342.0 687.2 L343.0 686.9 L344.0 686.6 L345.0 686.2 L346.0 685.7 L347.0 685.2 L348.0 684.7 L349.0 684.1 L350.0 683.5 L351.0 682.9 L352.0 682.3 L353.0 681.6 L354.0 680.9 L355.0 680.2 L356.0 679.5 L357.0 678.8 L358.0 678.1 L359.0 677.4 L360.0 676.7 L361.0 676.1 L362.0 675.5 L363.0 674.9 L364.0 674.3 L365.0 673.8 L366.0 673.3 L367.0 672.8 L368.0 672.4 L369.0 672.1 L370.0 671.8 L371.0 671.6 L372.0 671.4 L373.0 671.3 L374.0 671.2 L375.0 671.2 L376.0 671.3 L377.0 671.4 L378.0 671.6 L379.0 671.8 L380.0 672.1 L381.0 672.4 L382.0 672.8 L383.0 673.3 L384.0 673.8 L385.0 674.3 L386.0 674.9 L387.0 675.5 L388.0 676.1 L389.0 676.7 L390.0 677.4 L391.0 678.1 L392.0 678.8 L393.0 679.5 L394.0 680.2 L395.0 680.9 L396.0 681.6 L397.0 682.3 L398.0 682.9 L399.0 683.5 L400.0 684.1 L401.0 684.7 L402.0 685.2 L403.0 685.7 L404.0 686.2 L405.0 686.6 L406.0 686.9 L407.0 687.2 L408.0 687.4 L409.0 687.6 L410.0 687.7 L411.0 687.8 L412.0 687.8 L413.0 687.7 L414.0 687.6" fill="none" stroke="#1e1e1e" stroke-width="4.2" stroke-linecap="round"/>
<path d="M223.0 671.6 L224.0 671.4 L225.0 671.3 L226.0 671.2 L227.0 671.2 L228.0 671.3 L229.0 671.4 L230.0 671.6 L231.0 671.8 L232.0 672.1 L233.0 672.4 L234.0 672.8 L235.0 673.3 L236.0 673.8 L237.0 674.3 L238.0 674.9 L239.0 675.5 L240.0 676.1 L241.0 676.7 L242.0 677.4 L243.0 678.1 L244.0 678.8 L245.0 679.5 L246.0 680.2 L247.0 680.9 L248.0 681.6 L249.0 682.3 L250.0 682.9 L251.0 683.5 L252.0 684.1 L253.0 684.7 L254.0 685.2 L255.0 685.7 L256.0 686.2 L257.0 686.6 L258.0 686.9 L259.0 687.2 L260.0 687.4 L261.0 687.6 L262.0 687.7 L263.0 687.8 L264.0 687.8 L265.0 687.7 L266.0 687.6 L267.0 687.4 L268.0 687.2 L269.0 686.9 L270.0 686.6 L271.0 686.2 L272.0 685.7 L273.0 685.2 L274.0 684.7 L275.0 684.1 L276.0 683.5 L277.0 682.9 L278.0 682.3 L279.0 681.6 L280.0 680.9 L281.0 680.2 L282.0 679.5 L283.0 678.8 L284.0 678.1 L285.0 677.4 L286.0 676.7 L287.0 676.1 L288.0 675.5 L289.0 674.9 L290.0 674.3 L291.0 673.8 L292.0 673.3 L293.0 672.8 L294.0 672.4 L295.0 672.1 L296.0 671.8 L297.0 671.6 L298.0 671.4 L299.0 671.3 L300.0 671.2 L301.0 671.2 L302.0 671.3 L303.0 671.4 L304.0 671.6 L305.0 671.8 L306.0 672.1 L307.0 672.4 L308.0 672.8 L309.0 673.3 L310.0 673.8 L311.0 674.3 L312.0 674.9 L313.0 675.5 L314.0 676.1 L315.0 676.7 L316.0 677.4 L317.0 678.1 L318.0 678.8 L319.0 679.5 L320.0 680.2 L321.0 680.9 L322.0 681.6 L323.0 682.3 L324.0 682.9 L325.0 683.5 L326.0 684.1 L327.0 684.7 L328.0 685.2 L329.0 685.7 L330.0 686.2 L331.0 686.6 L332.0 686.9 L333.0 687.2 L334.0 687.4 L335.0 687.6 L336.0 687.7 L337.0 687.8 L338.0 687.8 L339.0 687.7 L340.0 687.6 L341.0 687.4 L342.0 687.2 L343.0 686.9 L344.0 686.6 L345.0 686.2 L346.0 685.7 L347.0 685.2 L348.0 684.7 L349.0 684.1 L350.0 683.5 L351.0 682.9 L352.0 682.3 L353.0 681.6 L354.0 680.9 L355.0 680.2 L356.0 679.5 L357.0 678.8 L358.0 678.1 L359.0 677.4 L360.0 676.7 L361.0 676.1 L362.0 675.5 L363.0 674.9 L364.0 674.3 L365.0 673.8 L366.0 673.3 L367.0 672.8 L368.0 672.4 L369.0 672.1 L370.0 671.8 L371.0 671.6 L372.0 671.4 L373.0 671.3 L374.0 671.2 L375.0 671.2 L376.0 671.3 L377.0 671.4 L378.0 671.6 L379.0 671.8 L380.0 672.1 L381.0 672.4 L382.0 672.8 L383.0 673.3 L384.0 673.8 L385.0 674.3 L386.0 674.9 L387.0 675.5 L388.0 676.1 L389.0 676.7 L390.0 677.4 L391.0 678.1 L392.0 678.8 L393.0 679.5 L394.0 680.2 L395.0 680.9 L396.0 681.6 L397.0 682.3 L398.0 682.9 L399.0 683.5 L400.0 684.1 L401.0 684.7 L402.0 685.2 L403.0 685.7 L404.0 686.2 L405.0 686.6 L406.0 686.9 L407.0 687.2 L408.0 687.4 L409.0 687.6 L410.0 687.7 L411.0 687.8 L412.0 687.8 L413.0 687.7 L414.0 687.6" fill="none" stroke="#a4a8ad" stroke-width="1.7" stroke-linecap="round"/>
<path d="M252.0 676.5 V682.5 M256.6 674.2 V684.8 M261.2 673.0 V686.0 M265.8 673.0 V686.0 M270.4 674.2 V684.8 M275.0 676.5 V682.5 M288.8 676.6 V682.4 M293.4 674.3 V684.7 M334.8 673.0 V686.0 M339.4 672.9 V686.1 M344.0 674.0 V685.0 M348.6 676.2 V682.8 M362.4 676.8 V682.2 M367.0 674.4 V684.6 M371.6 673.1 V685.9 M376.2 672.9 V686.1 M380.8 674.0 V685.0 M385.4 676.1 V682.9" fill="none" stroke="#4a4a4a" stroke-width="0.9"/>
<path d="M229.0 687.6 L230.0 687.4 L231.0 687.2 L232.0 686.9 L233.0 686.6 L234.0 686.2 L235.0 685.7 L236.0 685.2 L237.0 684.7 L238.0 684.1 L239.0 683.5 L240.0 682.9 L241.0 682.3 L242.0 681.6 L243.0 680.9 L244.0 680.2 L245.0 679.5 L246.0 678.8 L247.0 678.1 L248.0 677.4 L249.0 676.7 L250.0 676.1 L251.0 675.5 L252.0 674.9 L253.0 674.3 L254.0 673.8 L255.0 673.3 L256.0 672.8 L257.0 672.4 L258.0 672.1 L259.0 671.8 L260.0 671.6 L261.0 671.4 L262.0 671.3 L263.0 671.2 L264.0 671.2 L265.0 671.3 L266.0 671.4 L267.0 671.6 L268.0 671.8 L269.0 672.1 L270.0 672.4 L271.0 672.8 L272.0 673.3 L273.0 673.8 L274.0 674.3 L275.0 674.9 L276.0 675.5 L277.0 676.1 L278.0 676.7 L279.0 677.4 L280.0 678.1 L281.0 678.8 L282.0 679.5 L283.0 680.2 L284.0 680.9 L285.0 681.6 L286.0 682.3 L287.0 682.9 L288.0 683.5 L289.0 684.1 L290.0 684.7 L291.0 685.2 L292.0 685.7 L293.0 686.2 L294.0 686.6 L295.0 686.9 L296.0 687.2 L297.0 687.4 L298.0 687.6 L299.0 687.7 L300.0 687.8 L301.0 687.8 L302.0 687.7 L303.0 687.6 L304.0 687.4 L305.0 687.2 L306.0 686.9 L307.0 686.6 L308.0 686.2 L309.0 685.7 L310.0 685.2 L311.0 684.7 L312.0 684.1 L313.0 683.5 L314.0 682.9 L315.0 682.3 L316.0 681.6 L317.0 680.9 L318.0 680.2 L319.0 679.5 L320.0 678.8 L321.0 678.1 L322.0 677.4 L323.0 676.7 L324.0 676.1 L325.0 675.5 L326.0 674.9 L327.0 674.3 L328.0 673.8 L329.0 673.3 L330.0 672.8 L331.0 672.4 L332.0 672.1 L333.0 671.8 L334.0 671.6 L335.0 671.4 L336.0 671.3 L337.0 671.2 L338.0 671.2 L339.0 671.3 L340.0 671.4 L341.0 671.6 L342.0 671.8 L343.0 672.1 L344.0 672.4 L345.0 672.8 L346.0 673.3 L347.0 673.8 L348.0 674.3 L349.0 674.9 L350.0 675.5 L351.0 676.1 L352.0 676.7 L353.0 677.4 L354.0 678.1 L355.0 678.8 L356.0 679.5 L357.0 680.2 L358.0 680.9 L359.0 681.6 L360.0 682.3 L361.0 682.9 L362.0 683.5 L363.0 684.1 L364.0 684.7 L365.0 685.2 L366.0 685.7 L367.0 686.2 L368.0 686.6 L369.0 686.9 L370.0 687.2 L371.0 687.4 L372.0 687.6 L373.0 687.7 L374.0 687.8 L375.0 687.8 L376.0 687.7 L377.0 687.6 L378.0 687.4 L379.0 687.2 L380.0 686.9 L381.0 686.6 L382.0 686.2 L383.0 685.7 L384.0 685.2 L385.0 684.7 L386.0 684.1 L387.0 683.5 L388.0 682.9 L389.0 682.3 L390.0 681.6 L391.0 680.9 L392.0 680.2 L393.0 679.5 L394.0 678.8 L395.0 678.1 L396.0 677.4 L397.0 676.7 L398.0 676.1 L399.0 675.5 L400.0 674.9 L401.0 674.3 L402.0 673.8 L403.0 673.3 L404.0 672.8 L405.0 672.4 L406.0 672.1 L407.0 671.8 L408.0 671.6 L409.0 671.4 L410.0 671.3 L411.0 671.2 L412.0 671.2 L413.0 671.3" fill="none" stroke="#1e1e1e" stroke-width="4.2" stroke-linecap="round"/>
<path d="M229.0 687.6 L230.0 687.4 L231.0 687.2 L232.0 686.9 L233.0 686.6 L234.0 686.2 L235.0 685.7 L236.0 685.2 L237.0 684.7 L238.0 684.1 L239.0 683.5 L240.0 682.9 L241.0 682.3 L242.0 681.6 L243.0 680.9 L244.0 680.2 L245.0 679.5 L246.0 678.8 L247.0 678.1 L248.0 677.4 L249.0 676.7 L250.0 676.1 L251.0 675.5 L252.0 674.9 L253.0 674.3 L254.0 673.8 L255.0 673.3 L256.0 672.8 L257.0 672.4 L258.0 672.1 L259.0 671.8 L260.0 671.6 L261.0 671.4 L262.0 671.3 L263.0 671.2 L264.0 671.2 L265.0 671.3 L266.0 671.4 L267.0 671.6 L268.0 671.8 L269.0 672.1 L270.0 672.4 L271.0 672.8 L272.0 673.3 L273.0 673.8 L274.0 674.3 L275.0 674.9 L276.0 675.5 L277.0 676.1 L278.0 676.7 L279.0 677.4 L280.0 678.1 L281.0 678.8 L282.0 679.5 L283.0 680.2 L284.0 680.9 L285.0 681.6 L286.0 682.3 L287.0 682.9 L288.0 683.5 L289.0 684.1 L290.0 684.7 L291.0 685.2 L292.0 685.7 L293.0 686.2 L294.0 686.6 L295.0 686.9 L296.0 687.2 L297.0 687.4 L298.0 687.6 L299.0 687.7 L300.0 687.8 L301.0 687.8 L302.0 687.7 L303.0 687.6 L304.0 687.4 L305.0 687.2 L306.0 686.9 L307.0 686.6 L308.0 686.2 L309.0 685.7 L310.0 685.2 L311.0 684.7 L312.0 684.1 L313.0 683.5 L314.0 682.9 L315.0 682.3 L316.0 681.6 L317.0 680.9 L318.0 680.2 L319.0 679.5 L320.0 678.8 L321.0 678.1 L322.0 677.4 L323.0 676.7 L324.0 676.1 L325.0 675.5 L326.0 674.9 L327.0 674.3 L328.0 673.8 L329.0 673.3 L330.0 672.8 L331.0 672.4 L332.0 672.1 L333.0 671.8 L334.0 671.6 L335.0 671.4 L336.0 671.3 L337.0 671.2 L338.0 671.2 L339.0 671.3 L340.0 671.4 L341.0 671.6 L342.0 671.8 L343.0 672.1 L344.0 672.4 L345.0 672.8 L346.0 673.3 L347.0 673.8 L348.0 674.3 L349.0 674.9 L350.0 675.5 L351.0 676.1 L352.0 676.7 L353.0 677.4 L354.0 678.1 L355.0 678.8 L356.0 679.5 L357.0 680.2 L358.0 680.9 L359.0 681.6 L360.0 682.3 L361.0 682.9 L362.0 683.5 L363.0 684.1 L364.0 684.7 L365.0 685.2 L366.0 685.7 L367.0 686.2 L368.0 686.6 L369.0 686.9 L370.0 687.2 L371.0 687.4 L372.0 687.6 L373.0 687.7 L374.0 687.8 L375.0 687.8 L376.0 687.7 L377.0 687.6 L378.0 687.4 L379.0 687.2 L380.0 686.9 L381.0 686.6 L382.0 686.2 L383.0 685.7 L384.0 685.2 L385.0 684.7 L386.0 684.1 L387.0 683.5 L388.0 682.9 L389.0 682.3 L390.0 681.6 L391.0 680.9 L392.0 680.2 L393.0 679.5 L394.0 678.8 L395.0 678.1 L396.0 677.4 L397.0 676.7 L398.0 676.1 L399.0 675.5 L400.0 674.9 L401.0 674.3 L402.0 673.8 L403.0 673.3 L404.0 672.8 L405.0 672.4 L406.0 672.1 L407.0 671.8 L408.0 671.6 L409.0 671.4 L410.0 671.3 L411.0 671.2 L412.0 671.2 L413.0 671.3" fill="none" stroke="#dcdddf" stroke-width="1.7" stroke-linecap="round"/>
</g>

<!-- nucleus AR/DHT/ARE -->
<rect class="ar" x="304.7" y="612.6" width="36.7" height="54.8" rx="5"/>
<text class="art" x="315.8" y="627.8" textLength="15.1" lengthAdjust="spacingAndGlyphs">AR</text>
<rect class="dht" x="269.2" y="632.4" width="53.3" height="21" rx="5.5"/>
<text class="dhtt" x="284.2" y="646.5" textLength="22.6" lengthAdjust="spacingAndGlyphs">DHT</text>
<rect x="297.8" y="668" width="32.5" height="22.4" rx="3" fill="#f6b89b" stroke="#5a3a30" stroke-width="1"/>
<text x="302.7" y="684.1" font-size="12.6" fill="#4a3028" textLength="20.9" lengthAdjust="spacingAndGlyphs">ARE</text>

<!-- border -->
<rect x="1" y="695" width="667" height="1" fill="#fff"/>
<rect x="1" y="1" width="1" height="694" fill="#fff"/>
<rect x="667" y="1" width="1" height="694" fill="#fff"/>
<rect x="0" y="0" width="669" height="1" fill="#4a9878"/>
<rect x="0" y="696" width="669" height="1" fill="#4a9878"/>
<rect x="0" y="0" width="1" height="697" fill="#5a8c7c"/>
<rect x="668" y="0" width="1" height="697" fill="#4f9479"/>
</svg>
</body></html>
